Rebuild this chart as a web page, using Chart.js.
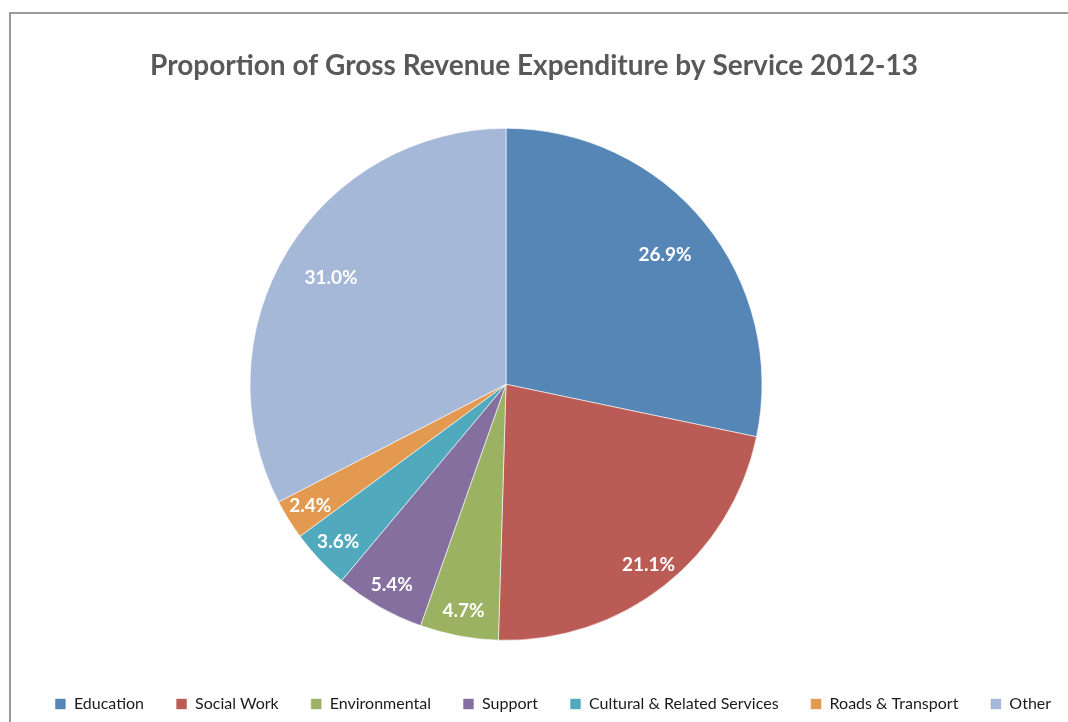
<!DOCTYPE html>
<html>
<head>
<meta charset="utf-8">
<script src="https://cdn.jsdelivr.net/npm/chart.js@4/dist/chart.umd.min.js"></script>
<style>
  html, body { margin: 0; padding: 0; background: #fff; overflow: hidden; }
  #wrap { position: relative; width: 1068px; height: 722px; }
  #frame { position: absolute; left: 9px; top: 12px; width: 1200px; height: 900px;
           border: 2px solid #9a9a9a; box-sizing: border-box; pointer-events: none; }
  canvas { position: absolute; left: 0; top: 0; }
</style>
</head>
<body>
<div id="wrap">
  <div id="frame"></div>
  <canvas id="chart" width="1068" height="722"></canvas>
</div>
<script>
// Gross revenue expenditure by service, 2012-13 (percent of total)
const services = ['Education', 'Social Work', 'Environmental', 'Support',
                  'Cultural & Related Services', 'Roads & Transport', 'Other'];
const shares = [26.9, 21.1, 4.7, 5.4, 3.6, 2.4, 31.0];
const sliceColors = ['#5586b6', '#ba5b55', '#9bb262', '#846f9f', '#51a9be', '#e3994f', '#a5b8d7'];
const chartTitle = 'Proportion of Gross Revenue Expenditure by Service 2012-13';

// Nudges the plot area and the legend so the pie sits off-centre under the title
const plotShift = {
  id: 'plotShift',
  afterLayout(chart, args, opts) {
    const a = chart.chartArea;
    a.left += opts.x; a.right += opts.x;
    a.top += opts.y; a.bottom += opts.y;
    const lg = chart.legend;
    if (lg) { lg.left += opts.legendX; lg.right += opts.legendX; }
  }
};

// Writes each slice's percentage on the slice
const sliceLabels = {
  id: 'sliceLabels',
  afterDatasetsDraw(chart, args, opts) {
    const ctx = chart.ctx;
    const meta = chart.getDatasetMeta(0);
    const data = chart.data.datasets[0].data;
    ctx.save();
    ctx.font = opts.font;
    ctx.fillStyle = opts.color;
    ctx.textAlign = 'center';
    ctx.textBaseline = 'middle';
    meta.data.forEach((arc, i) => {
      const p = arc.getProps(['x', 'y', 'startAngle', 'endAngle', 'outerRadius'], true);
      const mid = (p.startAngle + p.endAngle) / 2;
      const upper = Math.sin(mid) < 0;
      const r = p.outerRadius * (upper ? 0.8 : 0.9);
      ctx.fillText(data[i].toFixed(1) + '%', p.x + Math.cos(mid) * r, p.y + Math.sin(mid) * r);
    });
    ctx.restore();
  }
};

new Chart(document.getElementById('chart'), {
  type: 'pie',
  data: {
    labels: services,
    datasets: [{
      data: shares,
      backgroundColor: sliceColors,
      borderColor: 'rgba(255,255,255,0.6)',
      borderWidth: 1,
      clip: false
    }]
  },
  plugins: [plotShift, sliceLabels],
  options: {
    responsive: false,
    animation: false,
    radius: 256,
    layout: { padding: { left: 0, right: 0, top: 0, bottom: 0 } },
    plugins: {
      title: {
        display: true,
        text: chartTitle,
        color: '#595959',
        font: { family: 'Lato', size: 28, weight: 'bold' },
        padding: { top: 49, bottom: 44 }
      },
      legend: {
        position: 'bottom',
        labels: {
          color: '#1a1a1a',
          font: { family: 'Lato', size: 16 },
          boxWidth: 11,
          boxHeight: 11,
          padding: 32
        }
      },
      tooltip: { enabled: false },
      plotShift: { x: -28, y: -11, legendX: 19 },
      sliceLabels: { font: 'bold 19px Lato', color: '#ffffff' }
    }
  }
});
</script>
</body>
</html>
